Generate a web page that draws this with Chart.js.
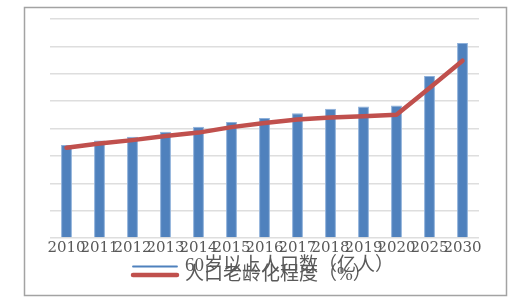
<!DOCTYPE html>
<html>
<head>
<meta charset="utf-8">
<script src="https://cdn.jsdelivr.net/npm/chart.js@4/dist/chart.umd.min.js"></script>
<style>
  body { margin: 0; background: #fff; }
  #wrap { width: 528px; height: 304px; }
</style>
</head>
<body>
<div id="wrap"><canvas id="agingChart"></canvas></div>
<script>
// Data
const years = ["2010", "2011", "2012", "2013", "2014", "2015", "2016", "2017", "2018", "2019", "2020", "2025", "2030"];
const elderly = [1.70, 1.78, 1.85, 1.94, 2.03, 2.12, 2.19, 2.28, 2.36, 2.40, 2.42, 2.96, 3.56];
const agingRate = [13.2, 13.8, 14.3, 14.9, 15.4, 16.2, 16.8, 17.3, 17.6, 17.8, 18.0, 21.9, 25.9];
const seriesNames = ["60岁以上人口数（亿人）", "人口老龄化程度（%）"];

// frame + overlapping legend drawn by hand, like the original
const framePlugin = {
  id: "frame",
  afterDraw(chart) {
    const ctx = chart.ctx;
    const ca = chart.chartArea;
    ctx.save();
    ctx.strokeStyle = "#a3a3a3";
    ctx.lineWidth = 1.5;
    ctx.strokeRect(24.5, 7.5, 482, 288);

    const x0 = ca.left + 83;
    const rows = [
      { y: 266.5, color: "#4F81BD", width: 1.8 },
      { y: 275, color: "#C0504D", width: 4.5 },
    ];
    ctx.font = '19px "Liberation Serif", "Noto Sans CJK SC"';
    ctx.textBaseline = "middle";
    rows.forEach((r, i) => {
      ctx.strokeStyle = r.color;
      ctx.lineWidth = r.width;
      ctx.lineCap = "round";
      ctx.beginPath();
      ctx.moveTo(x0, r.y);
      ctx.lineTo(x0 + 44, r.y);
      ctx.stroke();
      ctx.fillStyle = "#595959";
      ctx.fillText(seriesNames[i], x0 + 52, r.y);
    });
    ctx.restore();
  },
};

const config = {
  type: "bar",
  data: {
    labels: years,
    datasets: [
      {
        type: "line",
        label: seriesNames[1],
        data: agingRate,
        yAxisID: "y1",
        borderColor: "#C0504D",
        borderWidth: 4.5,
        borderJoinStyle: "round",
        borderCapStyle: "round",
        pointRadius: 0,
        tension: 0,
        order: 0,
      },
      {
        label: seriesNames[0],
        data: elderly,
        yAxisID: "y",
        backgroundColor: "#4F81BD",
        borderColor: "#8DB0DA",
        borderWidth: 1,
        barPercentage: 0.33,
        categoryPercentage: 1,
        order: 1,
      },
    ],
  },
  options: {
    responsive: true,
    maintainAspectRatio: false,
    animation: false,
    layout: { padding: { left: 50, right: 49, top: 19, bottom: 46 } },
    plugins: {
      legend: { display: false },
      tooltip: { enabled: false },
    },
    scales: {
      x: {
        grid: { display: false, drawTicks: false },
        border: { display: false },
        ticks: {
          autoSkip: false,
          maxRotation: 0,
          minRotation: 0,
          padding: 1,
          color: "#595959",
          font: { family: "DejaVu Serif", size: 15 },
        },
      },
      y: {
        min: 0,
        max: 4,
        grid: { color: "#dedede", lineWidth: 1.5, drawTicks: false },
        border: { display: false },
        ticks: { display: false, stepSize: 0.5 },
      },
      y1: {
        display: false,
        min: 0,
        max: 32,
      },
    },
  },
  plugins: [framePlugin],
};

const agingChart = new Chart(document.getElementById("agingChart"), config);
</script>
</body>
</html>
